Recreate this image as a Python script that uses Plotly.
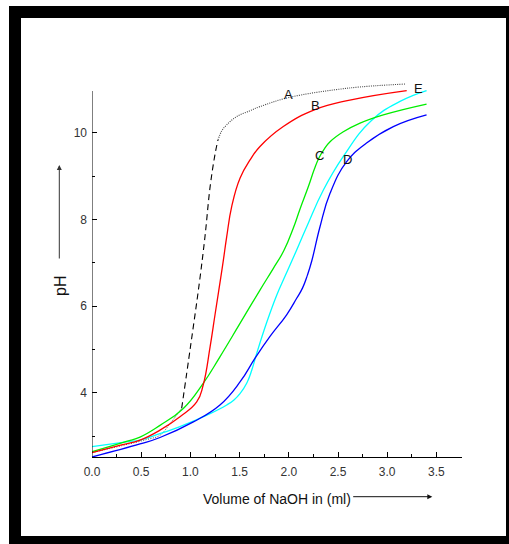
import plotly.graph_objects as go

# ---------------- data ----------------
a_x = [0.0, 0.3, 0.55, 0.69, 0.793, 0.911, 1.0, 1.09, 1.148, 1.2, 1.25, 1.28, 1.318, 1.369, 1.47, 1.6, 1.707, 2.0, 2.62, 3.18]
a_y = [2.62, 2.78, 2.92, 3.02, 3.29, 3.64, 5.05, 6.52, 7.6, 8.75, 9.5, 9.83, 10.04, 10.18, 10.37, 10.5, 10.6, 10.81, 11.03, 11.12]

b_x = [0.0, 0.3, 0.488, 0.691, 0.894, 1.064, 1.13, 1.2, 1.25, 1.308, 1.335, 1.369, 1.42, 1.504, 1.606, 1.707, 1.944, 2.266, 2.62, 3.198]
b_y = [2.62, 2.8, 2.91, 3.14, 3.45, 3.79, 4.18, 5.06, 5.8, 6.65, 7.06, 7.6, 8.3, 8.95, 9.37, 9.68, 10.14, 10.53, 10.75, 10.97]

c_x = [0.0, 0.35, 0.488, 0.691, 0.928, 1.13, 1.30, 1.504, 1.707, 1.843, 1.95, 2.046, 2.114, 2.198, 2.26, 2.307, 2.36, 2.419, 2.554, 2.724, 2.96, 3.40]
c_y = [2.64, 2.88, 2.98, 3.25, 3.64, 4.22, 4.83, 5.6, 6.37, 6.87, 7.28, 7.8, 8.24, 8.75, 9.16, 9.42, 9.62, 9.79, 10.02, 10.22, 10.41, 10.66]

d_x = [0.0, 0.488, 0.691, 1.03, 1.30, 1.504, 1.657, 1.809, 1.978, 2.08, 2.14, 2.19, 2.233, 2.317, 2.419, 2.588, 2.79, 3.062, 3.40]
d_y = [2.52, 2.82, 2.97, 3.33, 3.72, 4.25, 4.8, 5.3, 5.8, 6.18, 6.42, 6.72, 7.04, 7.83, 8.6, 9.33, 9.76, 10.14, 10.41]

e_x = [0.0, 0.35, 0.488, 0.691, 0.894, 1.2, 1.369, 1.44, 1.504, 1.572, 1.623, 1.674, 1.775, 1.877, 1.96, 2.046, 2.182, 2.35, 2.554, 2.84, 3.13, 3.40]
e_y = [2.76, 2.87, 2.91, 3.06, 3.22, 3.52, 3.72, 3.83, 3.98, 4.22, 4.52, 4.91, 5.62, 6.25, 6.68, 7.12, 7.83, 8.67, 9.45, 10.28, 10.72, 10.97]

curve_labels = ["A", "B", "C", "D", "E"]
label_x = [1.995, 2.274, 2.307, 2.595, 3.316]
label_y = [10.89, 10.62, 9.48, 9.38, 11.02]

x_ticks = [0.0, 0.5, 1.0, 1.5, 2.0, 2.5, 3.0, 3.5]
y_ticks = [4, 6, 8, 10]
y_minor = [3, 5, 7, 9]

x_title = "Volume of NaOH in (ml)"
y_title = "pH"

# ---------------- layout geometry ----------------
W, H = 509, 544
X_LO, X_HI = 0.0, 3.76
Y_LO, Y_AXIS_TOP = 2.52, 10.96
ML, MR, MB = 92, 47, 87
AX_TOP_PX = 91
PW = W - ML - MR
KY = (H - MB - AX_TOP_PX) / (Y_AXIS_TOP - Y_LO)   # px per pH unit
MT = 76
PH = H - MT - MB
Y_HI = Y_LO + PH / KY


def px(xp):
    return (xp - ML) / PW


def py(yp):
    return (H - MB - yp) / PH


FONT = "Liberation Sans, Arial, Helvetica, sans-serif"

fig = go.Figure()

lw = 1.3
SM = 1.3
# curve A split into line styles
i1, i2 = 5, 11
fig.add_trace(go.Scatter(x=a_x[:i1 + 1], y=a_y[:i1 + 1], mode="lines",
                         line=dict(color="#444", width=1, dash="1px,1.5px", shape="spline", smoothing=1.0), showlegend=False))
fig.add_trace(go.Scatter(x=a_x[i1:i2 + 1], y=a_y[i1:i2 + 1], mode="lines",
                         line=dict(color="black", width=1.1, dash="6px,4px", shape="spline", smoothing=1.0), showlegend=False))
fig.add_trace(go.Scatter(x=a_x[i2:], y=a_y[i2:], mode="lines",
                         line=dict(color="#444", width=1.1, dash="1px,1.2px", shape="spline", smoothing=1.0), showlegend=False))

for xs, ys, col in [(e_x, e_y, "#00ffff"), (c_x, c_y, "#00ee00"), (d_x, d_y, "#0000ff"), (b_x, b_y, "#ff0000")]:
    fig.add_trace(go.Scatter(x=xs, y=ys, mode="lines",
                             line=dict(color=col, width=lw, shape="spline", smoothing=SM), showlegend=False))

annotations = []
for t, lx, ly in zip(curve_labels, label_x, label_y):
    annotations.append(dict(x=lx, y=ly, xref="x", yref="y", text=t, showarrow=False,
                            xanchor="center", yanchor="middle",
                            font=dict(family=FONT, size=13, color="#111")))

# axis titles
annotations.append(dict(x=px(276.7), y=py(498.5), xref="paper", yref="paper", text=x_title, showarrow=False,
                        xanchor="center", yanchor="middle",
                        font=dict(family=FONT, size=14, color="#111")))
annotations.append(dict(x=px(60), y=py(286), xref="paper", yref="paper", text=y_title, showarrow=False, textangle=-90,
                        xanchor="center", yanchor="middle",
                        font=dict(family=FONT, size=16, color="#111")))
# arrows next to titles
annotations.append(dict(x=px(59.3), y=py(165), xref="paper", yref="paper", text="", showarrow=True,
                        ax=0, ay=95, axref="pixel", ayref="pixel", arrowhead=2, arrowsize=1, arrowwidth=1, arrowcolor="#333"))
annotations.append(dict(x=px(432.3), y=py(496.7), xref="paper", yref="paper", text="", showarrow=True,
                        ax=-80.6, ay=0, axref="pixel", ayref="pixel", arrowhead=2, arrowsize=1, arrowwidth=1, arrowcolor="#111"))

shapes = []
# black frame
for (x0, y0, x1, y1) in [(9, 6, 21, 544), (9, 6, 509, 18), (9, 536, 509, 544), (506, 6, 509, 544)]:
    shapes.append(dict(type="rect", xref="paper", yref="paper", x0=px(x0), x1=px(x1), y0=py(y1), y1=py(y0),
                       fillcolor="black", line=dict(width=0), layer="below"))
# left axis line (stops below the top of the data area)
shapes.append(dict(type="line", xref="x", yref="y", x0=X_LO, x1=X_LO, y0=Y_LO, y1=Y_AXIS_TOP,
                   line=dict(color="black", width=1)))

fig.update_layout(
    width=W, height=H,
    margin=dict(l=ML, r=MR, t=MT, b=MB, pad=0),
    paper_bgcolor="white", plot_bgcolor="rgba(0,0,0,0)",
    annotations=annotations, shapes=shapes,
    showlegend=False,
    xaxis=dict(range=[X_LO, X_HI], tickvals=x_ticks, ticktext=[f"{v:.1f}" for v in x_ticks],
               showline=True, linecolor="black", linewidth=1, ticks="inside", ticklen=5, tickwidth=1, tickcolor="black",
               minor=dict(ticks="inside", ticklen=3, tickwidth=1, tickcolor="black", dtick=0.25, tick0=0),
               ticklabelstandoff=4,
               showgrid=False, zeroline=False, tickfont=dict(family=FONT, size=12, color="#333")),
    yaxis=dict(range=[Y_LO, Y_HI], tickvals=y_ticks,
               showline=False, ticks="inside", ticklen=5, tickwidth=1, tickcolor="black",
               minor=dict(ticks="inside", ticklen=3, tickwidth=1, tickcolor="black", tickvals=y_minor),
               ticklabelstandoff=4,
               showgrid=False, zeroline=False, tickfont=dict(family=FONT, size=12, color="#333")),
)

fig.write_html("out.html", config={"displayModeBar": False}, post_script="document.body.style.margin='0';")
